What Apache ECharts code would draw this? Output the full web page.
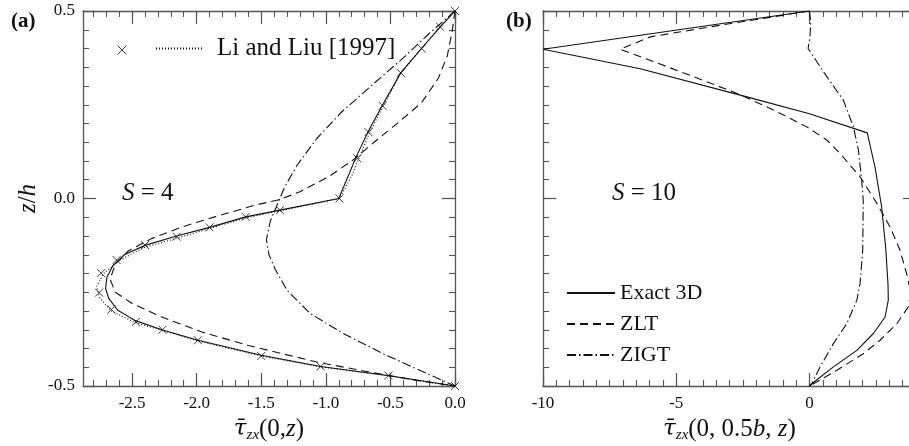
<!DOCTYPE html>
<html>
<head>
<meta charset="utf-8">
<script src="https://cdn.jsdelivr.net/npm/echarts@6/dist/echarts.min.js"></script>
<style>
  html, body { margin: 0; padding: 0; background: #fff; }
  #main { width: 909px; height: 446px; }
</style>
</head>
<body>
<div id="main"></div>
<script>
// panel (a): S = 4, tau_zx(0, z) against z/h
var aExact = [[0,0.5],[-0.12,0.455],[-0.26,0.40],[-0.42,0.335],[-0.56,0.25],[-0.67,0.18],[-0.76,0.115],[-0.90,0],
  [-1.355,-0.031],[-1.62,-0.049],[-1.90,-0.077],[-2.155,-0.10],[-2.40,-0.125],[-2.56,-0.15],[-2.65,-0.18],
  [-2.695,-0.21],[-2.705,-0.24],[-2.68,-0.267],[-2.61,-0.298],[-2.48,-0.325],[-2.27,-0.35],[-1.99,-0.378],
  [-1.50,-0.418],[-1.04,-0.448],[-0.52,-0.472],[0,-0.5]];
var aZLT = [[0,0.5],[-0.02,0.45],[-0.06,0.38],[-0.13,0.32],[-0.26,0.255],[-0.43,0.205],[-0.62,0.152],[-0.78,0.105],
  [-0.97,0.06],[-1.2,0.018],[-1.36,-0.003],[-1.55,-0.018],[-1.86,-0.049],[-2.115,-0.076],[-2.35,-0.107],
  [-2.53,-0.14],[-2.63,-0.175],[-2.67,-0.215],[-2.63,-0.25],[-2.50,-0.28],[-2.27,-0.316],[-1.96,-0.356],
  [-1.60,-0.392],[-1.07,-0.436],[-0.66,-0.463],[-0.30,-0.485],[0,-0.5]];
var aZIGT = [[0,0.5],[-0.2,0.44],[-0.4,0.375],[-0.65,0.30],[-0.88,0.23],[-1.07,0.16],[-1.22,0.09],[-1.32,0.03],
  [-1.38,-0.02],[-1.43,-0.06],[-1.46,-0.11],[-1.44,-0.15],[-1.39,-0.19],[-1.30,-0.245],[-1.12,-0.307],
  [-0.865,-0.36],[-0.555,-0.414],[-0.30,-0.454],[0,-0.5]];
var aLiPoints = [[0,0.5],[-0.116,0.458],[-0.258,0.40],[-0.42,0.335],[-0.56,0.247],[-0.67,0.177],[-0.756,0.107],
  [-0.895,0],[-1.355,-0.031],[-1.62,-0.049],[-1.90,-0.077],[-2.155,-0.102],[-2.40,-0.124],[-2.62,-0.164],
  [-2.74,-0.199],[-2.755,-0.251],[-2.66,-0.296],[-2.47,-0.329],[-2.265,-0.35],[-1.99,-0.378],[-1.50,-0.42],
  [-1.04,-0.448],[-0.516,-0.472],[0,-0.5]];
var aLiLine = [[0,0.5],[-0.116,0.458],[-0.258,0.40],[-0.42,0.335],[-0.55,0.25],[-0.655,0.18],[-0.74,0.11],
  [-0.80,0.06],[-0.895,0],[-1.355,-0.033],[-1.62,-0.052],[-1.90,-0.08],[-2.155,-0.106],[-2.40,-0.13],
  [-2.60,-0.165],[-2.72,-0.20],[-2.775,-0.235],[-2.75,-0.265],[-2.66,-0.30],[-2.47,-0.332],[-2.265,-0.352],
  [-1.99,-0.38],[-1.50,-0.42],[-1.04,-0.449],[-0.516,-0.473],[0,-0.5]];

// panel (b): S = 10, tau_zx(0, 0.5b, z)
var bExact = [[0,0.5],[-10,0.398],[-6.35,0.346],[-2.35,0.271],[0,0.226],[2.17,0.175],[2.46,0.084],[2.71,-0.022],
  [2.87,-0.138],[2.95,-0.23],[2.96,-0.271],[2.84,-0.316],[2.4,-0.36],[1.78,-0.405],[0.9,-0.449],[0.09,-0.494],[0,-0.5]];
var bZLT = [[0,0.5],[-1.5,0.483],[-3.35,0.462],[-5.97,0.431],[-7.1,0.398],[-5.85,0.365],[-4.35,0.325],[-2.6,0.277],
  [-1.35,0.236],[-0.1,0.191],[0.65,0.156],[1.15,0.12],[1.9,0.058],[2.53,-0.013],[3.03,-0.076],[3.4,-0.138],
  [3.68,-0.209],[3.8,-0.25],[3.71,-0.289],[3.28,-0.334],[2.65,-0.378],[2.02,-0.414],[1.03,-0.458],[0,-0.5]];
var bZIGT = [[0,0.5],[0.05,0.47],[0.02,0.43],[-0.05,0.40],[0.65,0.325],[1.275,0.262],[1.65,0.191],[1.84,0.129],
  [1.96,0.049],[2.02,-0.005],[2.0,-0.138],[1.9,-0.227],[1.78,-0.271],[1.4,-0.334],[0.9,-0.387],[0.4,-0.449],
  [0.09,-0.494],[0,-0.5]];

// axis ticks and labels
var aXMajor = [-2.5, -2.0, -1.5, -1.0, -0.5, 0.0];
var bXMajor = [-10, -5, 0];
var zMajor = [-0.5, 0.0, 0.5];

function steps(from, to, step) {
  var out = [];
  var n = Math.round((to - from) / step);
  for (var i = 0; i <= n; i++) out.push(+(from + i * step).toFixed(4));
  return out;
}
var aXMinor = steps(-2.8, 0, 0.1);
var bXMinor = steps(-10, 4, 0.5);
var zMinor = steps(-0.5, 0.5, 0.05);

var serif = 'Liberation Serif';
var axisColor = '#555';

var nameRich = {
  n: { fontFamily: serif, fontSize: 25, color: '#111', fontWeight: 'normal' },
  i: { fontFamily: serif, fontSize: 25, fontStyle: 'italic', color: '#111', fontWeight: 'normal' },
  t: { fontFamily: 'DejaVu Serif', fontSize: 23, fontStyle: 'italic', color: '#111', fontWeight: 'normal' },
  s: { fontFamily: serif, fontSize: 15, fontStyle: 'italic', color: '#111', fontWeight: 'normal', padding: [12, 0, 0, 0] }
};

function xAxes(grid, min, max, major, minor, fmt, nameText) {
  var base = { type: 'value', gridIndex: grid, min: min, max: max, splitLine: { show: false } };
  var list = [];
  ['bottom', 'top'].forEach(function (pos) {
    list.push(Object.assign({}, base, {
      position: pos,
      axisLine: { show: true, onZero: false, lineStyle: { color: axisColor, width: 1.3 } },
      axisTick: { show: true, inside: true, length: 13, customValues: major, lineStyle: { color: axisColor, width: 1.2 } },
      axisLabel: pos === 'bottom' ? {
        show: true, customValues: major, margin: 9, color: '#111', fontFamily: serif, fontSize: 17,
        formatter: fmt
      } : { show: false },
      name: pos === 'bottom' ? nameText : '',
      nameLocation: 'middle',
      nameGap: 26,
      nameTextStyle: { color: '#111', fontFamily: serif, fontSize: 24, rich: nameRich }
    }));
    list.push(Object.assign({}, base, {
      position: pos,
      axisLine: { show: false, onZero: false },
      axisTick: { show: true, inside: true, length: 6, customValues: minor, lineStyle: { color: axisColor, width: 1.1 } },
      axisLabel: { show: false }
    }));
  });
  return list;
}

function yAxes(grid, showLabels) {
  var base = { type: 'value', gridIndex: grid, min: -0.5, max: 0.5, splitLine: { show: false } };
  var list = [];
  ['left', 'right'].forEach(function (pos) {
    var lab = pos === 'left' && showLabels;
    list.push(Object.assign({}, base, {
      position: pos,
      axisLine: { show: true, onZero: false, lineStyle: { color: axisColor, width: 1.3 } },
      axisTick: { show: true, inside: true, length: 13, customValues: zMajor, lineStyle: { color: axisColor, width: 1.2 } },
      axisLabel: lab ? {
        show: true, customValues: zMajor, margin: 8, color: '#111', fontFamily: serif, fontSize: 17,
        formatter: function (v) { return v.toFixed(1); }
      } : { show: false },
      name: lab ? '{i|z}{n|/}{i|h}' : '',
      nameLocation: 'middle',
      nameRotate: 90,
      nameGap: 42,
      nameTextStyle: { color: '#111', fontFamily: serif, fontSize: 26, rich: nameRich }
    }));
    list.push(Object.assign({}, base, {
      position: pos,
      axisLine: { show: false, onZero: false },
      axisTick: { show: true, inside: true, length: 6, customValues: zMinor, lineStyle: { color: axisColor, width: 1.1 } },
      axisLabel: { show: false }
    }));
  });
  return list;
}

var dash = [8, 5];
var dashDot = [9, 3, 1.5, 3];
var dotted = [1, 2];

function line(name, data, grid, type) {
  return {
    name: name,
    type: 'line',
    xAxisIndex: grid * 4,
    yAxisIndex: grid * 4,
    data: data,
    symbol: 'none',
    smooth: false,
    animation: false,
    lineStyle: { color: '#111', width: 1.1, type: type },
    itemStyle: { color: '#111' }
  };
}

var crossPath = 'path://M0,0L10,10M10,0L0,10';
var sRich = {
  i: { fontFamily: serif, fontStyle: 'italic', fontWeight: 'normal', fontSize: 25, color: '#111' },
  n: { fontFamily: serif, fontWeight: 'normal', fontSize: 25, color: '#111' }
};

var option = {
  animation: false,
  backgroundColor: '#fff',
  grid: [
    { left: 83, top: 11, width: 372, height: 375, outerBoundsMode: 'none' },
    { left: 543, top: 11, width: 373, height: 375, outerBoundsMode: 'none' }
  ],
  xAxis: xAxes(0, -2.88, 0, aXMajor, aXMinor, function (v) { return v.toFixed(1); },
      '{t|τ̄}{s|zx}{n|(0,}{i|z}{n|)}')
    .concat(xAxes(1, -10, 4, bXMajor, bXMinor, function (v) { return String(v); },
      '{t|τ̄}{s|zx}{n|(0, 0.5}{i|b}{n|, }{i|z}{n|)}')),
  yAxis: yAxes(0, true).concat(yAxes(1, false)),
  title: [
    { text: '(a)', left: 6, top: 6, textStyle: { fontFamily: serif, fontWeight: 'bold', fontSize: 21, color: '#111' } },
    { text: '(b)', left: 501, top: 6, textStyle: { fontFamily: serif, fontWeight: 'bold', fontSize: 21, color: '#111' } },
    { text: '{i|S}{n| = 4}', left: 117, top: 176, textStyle: { fontWeight: 'normal', rich: sRich } },
    { text: '{i|S}{n| = 10}', left: 607, top: 176, textStyle: { fontWeight: 'normal', rich: sRich } }
  ],
  legend: [
    {
      data: [{ name: 'Li and Liu points', icon: crossPath }],
      left: 112, top: 40, itemWidth: 9, itemHeight: 9,
      formatter: function () { return ''; },
      itemStyle: { color: 'transparent', borderColor: '#111', borderWidth: 1 },
      selectedMode: false
    },
    {
      data: ['Li and Liu [1997]'],
      left: 150, top: 31, itemWidth: 48, itemHeight: 12,
      itemStyle: { color: 'transparent', borderWidth: 0, opacity: 0 },
      textStyle: { fontFamily: serif, fontSize: 25, color: '#111', padding: [0, 0, 0, 8] },
      selectedMode: false
    },
    {
      data: ['Exact 3D', 'ZLT', 'ZIGT'],
      orient: 'vertical',
      left: 561, top: 277, itemWidth: 48, itemHeight: 12, itemGap: 9,
      itemStyle: { color: 'transparent', borderWidth: 0, opacity: 0 },
      textStyle: { fontFamily: serif, fontSize: 22, color: '#111', lineHeight: 22 },
      selectedMode: false
    }
  ],
  series: [
    line('Exact 3D (a)', aExact, 0, 'solid'),
    line('ZLT (a)', aZLT, 0, dash),
    line('ZIGT (a)', aZIGT, 0, dashDot),
    line('Li and Liu [1997]', aLiLine, 0, dotted),
    {
      name: 'Li and Liu points',
      type: 'scatter',
      xAxisIndex: 0,
      yAxisIndex: 0,
      data: aLiPoints,
      symbol: crossPath,
      symbolSize: 8,
      animation: false,
      itemStyle: { color: 'transparent', borderColor: '#111', borderWidth: 1 }
    },
    line('Exact 3D', bExact, 1, 'solid'),
    line('ZLT', bZLT, 1, dash),
    line('ZIGT', bZIGT, 1, dashDot)
  ]
};

var chart = echarts.init(document.getElementById('main'));
chart.setOption(option);
</script>
</body>
</html>
